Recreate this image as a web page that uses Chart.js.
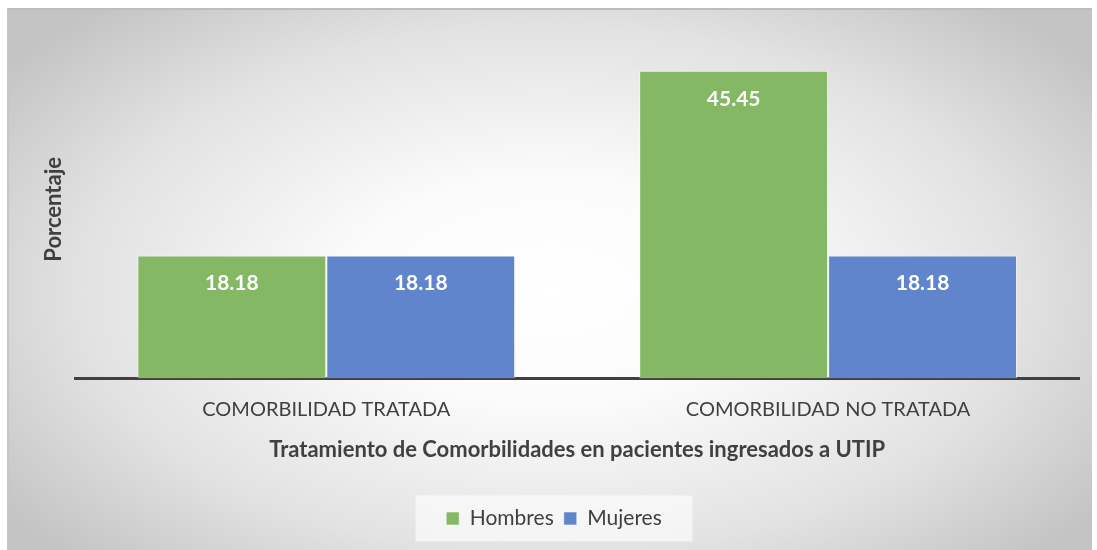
<!DOCTYPE html>
<html>
<head>
<meta charset="utf-8">
<script src="https://cdn.jsdelivr.net/npm/chart.js@4/dist/chart.umd.min.js"></script>
<style>
  body { margin: 0; background: #ffffff; }
  #wrap {
    position: absolute; left: 7px; top: 8px; width: 1083px; height: 540px;
    border-top: 2px solid #bdbdbd; border-left: 2px solid #c6c6c6;
    background: radial-gradient(ellipse 62% 70% at 50% 52%, #ffffff 0%, #fbfbfb 30%, #e2e2e2 70%, #c4c4c4 100%);
  }
</style>
</head>
<body>
<div id="wrap"><canvas id="barChart"></canvas></div>
<script>
const categories = ['COMORBILIDAD TRATADA', 'COMORBILIDAD NO TRATADA'];
const hombres = [18.18, 45.45];
const mujeres = [18.18, 18.18];
const seriesNames = ['Hombres', 'Mujeres'];

// white labels inside the top of each bar
const barLabels = {
  id: 'barLabels',
  afterDatasetsDraw(chart) {
    const c = chart.ctx;
    c.save();
    c.fillStyle = '#ffffff';
    c.font = 'bold 21px Lato';
    c.textAlign = 'center';
    c.textBaseline = 'middle';
    chart.data.datasets.forEach((ds, i) => {
      chart.getDatasetMeta(i).data.forEach((bar, j) => {
        c.fillText(ds.data[j].toFixed(2), bar.x, bar.y + 28);
      });
    });
    c.restore();
  }
};

// light box behind the legend
const legendBox = {
  id: 'legendBox',
  beforeDraw(chart) {
    const l = chart.legend;
    if (!l) return;
    const c = chart.ctx;
    c.save();
    c.fillStyle = 'rgba(255,255,255,0.6)';
    const w = 277, h = 46;
    const cx = (l.left + l.right) / 2;
    const cy = (l.top + l.bottom) / 2;
    c.fillRect(cx - w / 2, cy - h / 2, w, h);
    c.restore();
  }
};

const ctx = document.getElementById('barChart').getContext('2d');
const barChart = new Chart(ctx, {
  type: 'bar',
  data: {
    labels: categories,
    datasets: [{
      label: seriesNames[0],
      data: hombres,
      backgroundColor: '#85b864',
      borderColor: 'rgba(255,255,255,0.55)',
      borderWidth: 1
    }, {
      label: seriesNames[1],
      data: mujeres,
      backgroundColor: '#6085cc',
      borderColor: 'rgba(255,255,255,0.55)',
      borderWidth: 1
    }]
  },
  options: {
    responsive: true,
    maintainAspectRatio: false,
    animation: false,
    layout: {
      padding: { left: 20, right: 13, top: 30, bottom: 11 }
    },
    datasets: {
      bar: { categoryPercentage: 0.753, barPercentage: 1 }
    },
    plugins: {
      legend: {
        position: 'bottom',
        labels: {
          boxWidth: 13,
          boxHeight: 13,
          padding: 10,
          color: '#404040',
          font: { family: 'Lato', size: 21 }
        }
      },
      tooltip: { enabled: false }
    },
    scales: {
      x: {
        grid: { display: false },
        border: { display: true, color: '#404040', width: 3 },
        ticks: {
          color: '#404040',
          padding: 11,
          font: { family: 'Lato', size: 20 }
        },
        title: {
          display: true,
          text: 'Tratamiento de Comorbilidades en pacientes ingresados a UTIP',
          color: '#404040',
          font: { family: 'Lato', size: 22, weight: 'bold' },
          padding: { top: 4, bottom: 35 }
        }
      },
      y: {
        min: 0,
        max: 50,
        grid: { display: false },
        border: { display: false },
        ticks: { display: false },
        title: {
          display: true,
          text: 'Porcentaje',
          color: '#404040',
          font: { family: 'Lato', size: 22, weight: 'bold' },
          padding: { top: 12, bottom: 0 }
        }
      }
    }
  },
  plugins: [barLabels, legendBox]
});
</script>
</body>
</html>
